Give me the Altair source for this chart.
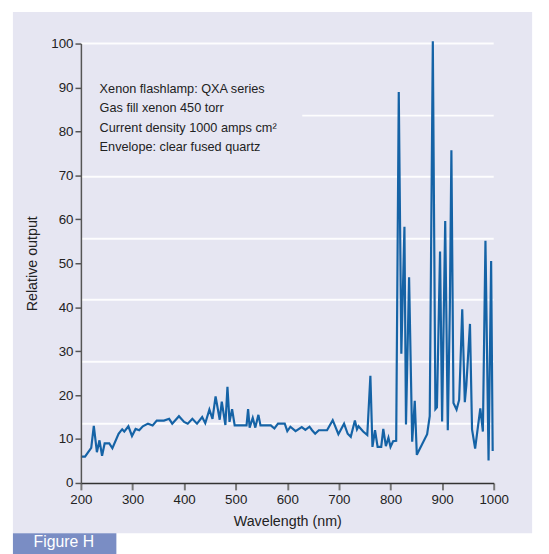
import altair as alt
import pandas as pd

# Wavelength (nm) and relative output
wavelength = [200, 208, 220, 225, 231, 236, 241, 246, 255, 261, 273, 277, 280, 284, 292,
              299, 306, 313, 320, 330, 339, 347, 361, 371, 377, 390, 400, 407, 416, 425,
              435, 441, 449, 455, 461, 469, 473, 480, 484, 488, 493, 498, 521, 524, 527,
              533, 538, 544, 548, 568, 575, 582, 595, 600, 606, 616, 628, 635, 643, 648,
              654, 661, 677, 688, 699, 710, 717, 723, 731, 735, 738, 747, 755, 761, 765,
              770, 775, 782, 786, 791, 796, 800, 805, 811, 816, 821, 827, 830, 836, 842,
              847, 851, 871, 876, 882, 887, 890, 896, 900, 906, 911, 915, 918, 922, 928,
              933, 935, 939, 944, 947, 954, 958, 964, 974, 979, 984, 990, 995, 998]
output = [6, 6, 8, 13, 7, 9.7, 6.2, 9, 9, 7.9, 11.2, 11.8, 12.2, 11.7, 12.9,
          10.7, 12.3, 12, 12.9, 13.5, 13.1, 14.2, 14.2, 14.6, 13.5, 15.2, 13.9, 13.5, 14.6, 13.5,
          15, 13.6, 16.7, 14.6, 19.7, 14.4, 18.5, 13.2, 21.9, 13.9, 16.8, 13.1, 13.1, 16.8, 12.6,
          14.8, 12.6, 15.5, 13.1, 13.1, 12.4, 13.5, 13.5, 11.8, 12.8, 11.8, 12.7, 12.1, 12.8, 12,
          11.2, 12, 12, 14.3, 11.1, 13.5, 11.2, 10.5, 14.2, 12.2, 12.9, 11.7, 10.9, 24.4, 8.2,
          12, 8.2, 8.2, 12.3, 8.4, 10.3, 8.2, 9.5, 9.6, 89, 29.4, 58.3, 13.3, 46.8, 9.4,
          18.7, 6.4, 11.1, 15.2, 100.5, 16.8, 17.2, 52.7, 14, 59.6, 12, 40, 75.7, 18.2, 16.7,
          18.9, 25.3, 39.5, 18.4, 22.3, 36.2, 12.2, 7.8, 17, 11.7, 55.1, 5.1, 50.5, 7.3]

# Faint white horizontal lines of the original artwork
grid_values = [100, 83.6, 69.7, 55.6, 41.7, 27.6, 13.5]
grid_start = [200, 629, 200, 200, 200, 200, 200]
grid_end = [1000, 1000, 1000, 1000, 1000, 1000, 1000]

x_ticks = [200, 300, 400, 500, 600, 700, 800, 900, 1000]
y_ticks = [0, 10, 20, 30, 40, 50, 60, 70, 80, 90, 100]

notes = ["Xenon flashlamp: QXA series",
         "Gas fill xenon 450 torr",
         "Current density 1000 amps cm\u00b2",
         "Envelope: clear fused quartz"]

LAV = "#e6e6f2"
BLUE = "#1563a6"
FONT = "Liberation Sans"

df = pd.DataFrame({"wl": wavelength, "out": output})
gdf = pd.DataFrame({"g": grid_values, "xs": grid_start, "xe": grid_end})

xscale = alt.Scale(domain=[200, 1000], nice=False, zero=False)
yscale = alt.Scale(domain=[0, 100], nice=False)
XT = "Wavelength (nm)"
YT = "Relative output"

one = alt.Data(values=[{}])

bg = alt.Chart(one).mark_rect(color=LAV).encode(
    x=alt.value(-69), x2=alt.value(458), y=alt.value(-32), y2=alt.value(497))

fig_box = alt.Chart(one).mark_rect(color="#7a8dc4").encode(
    x=alt.value(-69), x2=alt.value(36), y=alt.value(497), y2=alt.value(520))
fig_txt = alt.Chart(one).mark_text(
    text="Figure H", color="white", fontSize=16, font=FONT, align="left", baseline="middle"
).encode(x=alt.value(-48), y=alt.value(506))

grid = alt.Chart(gdf).mark_rule(color="white", strokeWidth=2, opacity=0.9).encode(
    y=alt.Y("g:Q", scale=yscale, title=YT),
    x=alt.X("xs:Q", scale=xscale, title=XT),
    x2="xe:Q")

line = alt.Chart(df).mark_line(color=BLUE, strokeWidth=2.2, clip=False).encode(
    x=alt.X("wl:Q", scale=xscale, title=XT,
            axis=alt.Axis(values=x_ticks, format="d", labelFlush=False, grid=False, zindex=1,
                          domainColor="#333", domainWidth=1.5, tickColor="#777", tickWidth=2,
                          tickSize=7, labelFontSize=13.5, labelColor="#222", labelFont=FONT,
                          labelPadding=3, titleFont=FONT, titleFontSize=14.5,
                          titleFontWeight="normal", titleColor="#222", titlePadding=9)),
    y=alt.Y("out:Q", scale=yscale, title=YT,
            axis=alt.Axis(values=y_ticks, grid=False, zindex=1, domainColor="#555",
                          domainWidth=1.5, tickColor="#555", tickWidth=1.5, tickSize=6,
                          labelFontSize=13.5, labelColor="#222", labelFont=FONT,
                          labelPadding=2, titleFont=FONT, titleFontSize=14.5,
                          titleFontWeight="normal", titleColor="#222", titlePadding=12)),
    order="wl:Q")

text_layers = []
for i, t in enumerate(notes):
    text_layers.append(
        alt.Chart(one).mark_text(text=t, fontSize=12.9, font=FONT, color="#222",
                                 align="left", baseline="middle")
        .encode(x=alt.value(19), y=alt.value(46 + 19.7 * i)))

chart = alt.layer(bg, fig_box, fig_txt, grid, line, *text_layers).properties(
    width=419, height=446,
    padding={"left": 74, "top": 32, "right": 48, "bottom": 68},
    autosize=alt.AutoSizeParams(type="none"),
    background="white",
).configure_view(stroke=None)

chart.save("out.html", embed_options={"renderer": "svg", "actions": False})
